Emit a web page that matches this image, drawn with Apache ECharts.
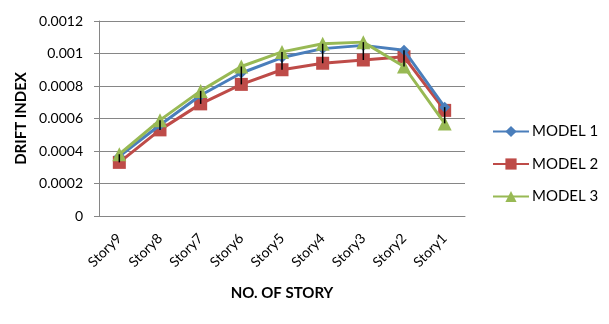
<!DOCTYPE html>
<html><head><meta charset="utf-8">
<script src="https://cdn.jsdelivr.net/npm/echarts@6/dist/echarts.min.js"></script>
<style>html,body{margin:0;padding:0;background:#fff}#c{width:609px;height:324px}</style>
</head><body><div id="c"></div>
<script>
var categories = ['Story9','Story8','Story7','Story6','Story5','Story4','Story3','Story2','Story1'];
var model1 = [0.000368, 0.00056, 0.000743, 0.00088, 0.000975, 0.00103, 0.00105, 0.00102, 0.00067];
var model2 = [0.00033, 0.00053, 0.00069, 0.00081, 0.0009, 0.00094, 0.00096, 0.00098, 0.00065];
var model3 = [0.00038, 0.00059, 0.00077, 0.00092, 0.00101, 0.00106, 0.00107, 0.00092, 0.00057];
var yTicks = [0, 0.0002, 0.0004, 0.0006, 0.0008, 0.001, 0.0012];

var hiLo = categories.map(function(c, i){
  var v = [model1[i], model2[i], model3[i]];
  return [i, Math.min.apply(null, v), Math.max.apply(null, v)];
});
var font = 'Lato';
var chart = echarts.init(document.getElementById('c'), null, {renderer:'canvas'});
chart.setOption({
  animation:false,
  grid:{left:99, right:144, top:21, bottom:108},
  legend:{
    orient:'vertical', left:487, top:119, itemGap:17.5, itemWidth:36, itemHeight:14,
    textStyle:{fontFamily:font, fontSize:15, lineHeight:14, color:'#000', padding:[0,0,0,-2]},
    data:['MODEL 1','MODEL 2','MODEL 3']
  },
  xAxis:{
    type:'category', data:categories, boundaryGap:true,
    name:'NO. OF STORY', nameLocation:'middle', nameGap:70,
    nameTextStyle:{fontFamily:font, fontSize:15, fontWeight:'bold', color:'#000'},
    axisLine:{lineStyle:{color:'#868686'}}, axisTick:{show:false},
    axisLabel:{rotate:45, margin:20, fontFamily:font, fontSize:14, color:'#000', interval:0}
  },
  yAxis:{
    type:'value', min:0, max:0.0012, interval:0.0002,
    name:'DRIFT INDEX', nameLocation:'middle', nameGap:70,
    nameTextStyle:{fontFamily:font, fontSize:15, fontWeight:'bold', color:'#000'},
    axisLine:{show:true, lineStyle:{color:'#868686'}},
    axisTick:{show:true, length:5, lineStyle:{color:'#868686'}},
    splitLine:{lineStyle:{color:'#868686'}},
    axisLabel:{margin:16, fontFamily:font, fontSize:14, color:'#000',
      formatter:function(v){ for (var k=0;k<yTicks.length;k++){ if (Math.abs(v-yTicks[k])<1e-9) return String(yTicks[k]); } return ''; }}
  },
  series:[
    {name:'MODEL 1', type:'line', data:model1, symbol:'diamond', symbolSize:11,
     lineStyle:{color:'#4A7EBB', width:3}, itemStyle:{color:'#4A7EBB'}, z:3},
    {name:'MODEL 2', type:'line', data:model2, symbol:'rect', symbolSize:13,
     lineStyle:{color:'#BE4B48', width:3}, itemStyle:{color:'#BE4B48'}, z:2},
    {name:'MODEL 3', type:'line', data:model3, symbol:'triangle', symbolSize:14,
     lineStyle:{color:'#98B954', width:3}, itemStyle:{color:'#98B954'}, z:4},
    {type:'custom', data:hiLo, z:10, silent:true,
     renderItem:function(params, api){
       var lo = api.coord([api.value(0), api.value(1)]);
       var hi = api.coord([api.value(0), api.value(2)]);
       return {type:'line', shape:{x1:lo[0], y1:lo[1], x2:hi[0], y2:hi[1]},
               style:{stroke:'#000', lineWidth:1.5}};
     }}
  ]
});
</script></body></html>
